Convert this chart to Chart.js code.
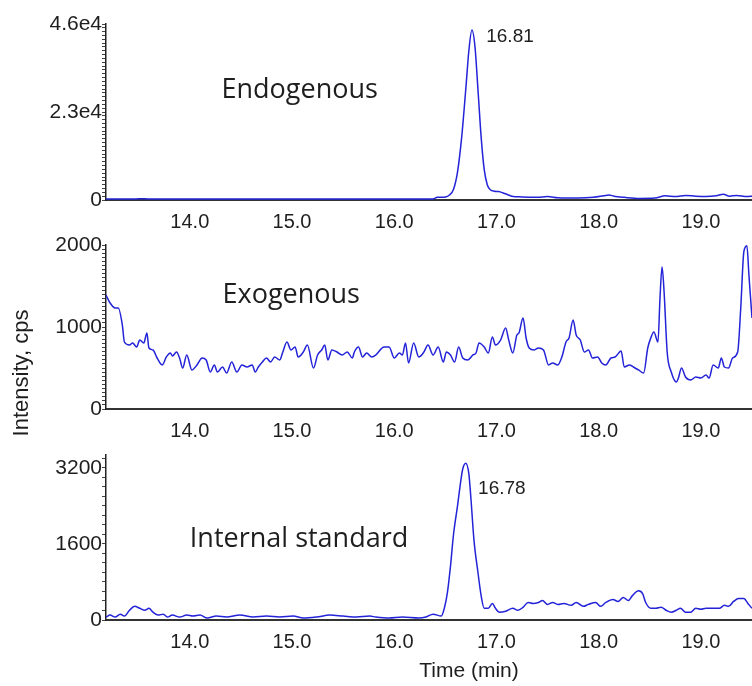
<!DOCTYPE html>
<html>
<head>
<meta charset="utf-8">
<script src="https://cdn.jsdelivr.net/npm/chart.js@4.4.1/dist/chart.umd.min.js"></script>
<style>
  html, body { margin: 0; padding: 0; background: #fff; }
  #wrap { position: relative; width: 752px; height: 686px; overflow: hidden; }
  canvas { position: absolute; left: 0; }
</style>
</head>
<body>
<div id="wrap">
  <canvas id="c1" width="752" height="232" style="top:0px"></canvas>
  <canvas id="c2" width="752" height="210" style="top:232px"></canvas>
  <canvas id="c3" width="752" height="244" style="top:442px"></canvas>
</div>
<script>
// axe du temps (min), commun aux trois panneaux
const timeMin = 13.18, timeMax = 19.5;
const timeTicks = [14, 15, 16, 17, 18, 19];

// Endogenous
const endoTime = [13.18, 13.45, 13.50, 13.56, 13.62, 14.00, 14.50, 15.00, 15.50, 16.00,
  16.38, 16.42, 16.50, 16.54, 16.58, 16.62, 16.66, 16.70, 16.73, 16.76,
  16.79, 16.82, 16.85, 16.88, 16.91, 16.94, 16.98, 17.02, 17.06, 17.10,
  17.15, 17.25, 17.40, 17.50, 17.60, 17.80, 17.95, 18.05, 18.10, 18.15,
  18.25, 18.40, 18.55, 18.65, 18.75, 18.85, 18.95, 19.05, 19.15, 19.22,
  19.28, 19.35, 19.45, 19.50];
const endoValue = [250, 250, 300, 300, 250, 250, 280, 250, 260, 250,
  280, 700, 800, 1300, 2800, 7500, 16500, 29000, 39000, 44400,
  40000, 28500, 16500, 8000, 4000, 2700, 2300, 2200, 1900, 1500,
  1000, 800, 700, 900, 600, 500, 700, 1100, 1300, 1000,
  700, 400, 500, 1100, 900, 1200, 1000, 900, 1100, 1500,
  1000, 1200, 900, 1000];
const endoMax = 46000, endoStep = 1000;
const endoLabels = { 0: '0', 23000: '2.3e4', 46000: '4.6e4' };

// Exogenous
const exoTime = [13.18, 13.22, 13.27, 13.30, 13.34, 13.36, 13.41, 13.44, 13.48, 13.51,
  13.55, 13.58, 13.60, 13.64, 13.68, 13.73, 13.77, 13.81, 13.83, 13.87,
  13.90, 13.93, 13.97, 14.02, 14.07, 14.12, 14.16, 14.20, 14.24, 14.27,
  14.32, 14.36, 14.41, 14.46, 14.51, 14.56, 14.61, 14.64, 14.67, 14.71,
  14.75, 14.79, 14.83, 14.88, 14.91, 14.95, 14.99, 15.03, 15.06, 15.11,
  15.15, 15.21, 15.25, 15.29, 15.32, 15.35, 15.39, 15.44, 15.49, 15.54,
  15.59, 15.61, 15.65, 15.69, 15.73, 15.78, 15.82, 15.90, 15.95, 16.00,
  16.05, 16.08, 16.11, 16.14, 16.19, 16.24, 16.29, 16.33, 16.38, 16.43,
  16.48, 16.51, 16.55, 16.59, 16.63, 16.67, 16.72, 16.77, 16.80, 16.83,
  16.88, 16.92, 16.96, 16.99, 17.04, 17.09, 17.12, 17.16, 17.20, 17.22,
  17.26, 17.29, 17.32, 17.37, 17.41, 17.46, 17.51, 17.55, 17.60, 17.64,
  17.68, 17.71, 17.75, 17.78, 17.82, 17.86, 17.90, 17.94, 17.99, 18.03,
  18.07, 18.12, 18.16, 18.22, 18.25, 18.30, 18.34, 18.39, 18.44, 18.48,
  18.51, 18.54, 18.58, 18.60, 18.62, 18.64, 18.67, 18.71, 18.76, 18.78,
  18.81, 18.85, 18.90, 18.95, 19.00, 19.05, 19.08, 19.12, 19.17, 19.20,
  19.23, 19.27, 19.31, 19.36, 19.39, 19.42, 19.45, 19.47, 19.50, 19.53];
const exoValue = [1390, 1293, 1232, 1232, 1024, 817, 780, 805, 756, 841,
  805, 927, 744, 720, 622, 537, 634, 683, 646, 695,
  622, 500, 659, 476, 537, 622, 598, 451, 537, 451,
  512, 439, 573, 451, 537, 512, 537, 451, 512, 573,
  622, 573, 634, 598, 695, 817, 720, 756, 634, 695,
  780, 500, 659, 720, 780, 598, 720, 695, 659, 695,
  622, 695, 756, 634, 683, 634, 659, 756, 756, 622,
  683, 659, 805, 561, 805, 634, 695, 780, 659, 756,
  573, 695, 659, 573, 756, 622, 598, 659, 683, 805,
  756, 683, 878, 780, 841, 988, 841, 683, 902, 927,
  1110, 866, 744, 720, 744, 720, 537, 561, 537, 634,
  817, 866, 1085, 902, 841, 695, 720, 622, 634, 561,
  537, 622, 634, 707, 512, 537, 512, 476, 439, 744,
  866, 939, 817, 1354, 1732, 1427, 695, 451, 329, 378,
  500, 390, 354, 390, 378, 415, 378, 537, 500, 622,
  512, 500, 622, 695, 1232, 1915, 1990, 1634, 1110, 700];
const exoMax = 2000, exoStep = 50;
const exoLabels = { 0: '0', 1000: '1000', 2000: '2000' };

// Internal standard
const istdTime = [13.18, 13.22, 13.27, 13.32, 13.36, 13.41, 13.46, 13.51, 13.56, 13.60,
  13.64, 13.69, 13.74, 13.78, 13.83, 13.90, 13.97, 14.03, 14.10, 14.17,
  14.26, 14.36, 14.49, 14.62, 14.75, 14.88, 15.01, 15.11, 15.24, 15.37,
  15.50, 15.63, 15.76, 15.82, 15.95, 16.08, 16.24, 16.31, 16.38, 16.46,
  16.49, 16.52, 16.55, 16.58, 16.62, 16.65, 16.67, 16.70, 16.73, 16.75,
  16.78, 16.82, 16.85, 16.88, 16.92, 16.96, 16.99, 17.03, 17.09, 17.16,
  17.21, 17.26, 17.31, 17.36, 17.41, 17.45, 17.50, 17.55, 17.60, 17.66,
  17.73, 17.78, 17.85, 17.90, 17.97, 18.02, 18.07, 18.14, 18.19, 18.24,
  18.29, 18.33, 18.39, 18.43, 18.46, 18.51, 18.56, 18.61, 18.66, 18.71,
  18.76, 18.80, 18.85, 18.90, 18.95, 19.00, 19.05, 19.12, 19.18, 19.23,
  19.27, 19.32, 19.37, 19.42, 19.46, 19.50, 19.53];
const istdValue = [62, 103, 62, 123, 82, 205, 287, 246, 205, 246,
  164, 103, 123, 62, 103, 62, 103, 82, 103, 41,
  82, 62, 103, 62, 82, 62, 82, 41, 62, 103,
  82, 62, 82, 62, 41, 62, 41, 62, 123, 82,
  246, 574, 1128, 1804, 2419, 2911, 3178, 3300, 3075, 2563,
  1681, 984, 513, 246, 246, 349, 246, 164, 185, 246,
  205, 267, 369, 349, 369, 410, 328, 369, 328, 349,
  308, 369, 287, 328, 369, 287, 369, 431, 390, 472,
  410, 513, 615, 554, 369, 246, 246, 267, 205, 164,
  205, 246, 164, 164, 246, 226, 246, 246, 246, 308,
  287, 390, 451, 451, 349, 246, 200];
const istdMax = 3480, istdStep = 200;
const istdLabels = { 0: '0', 1600: '1600', 3200: '3200' };

const lineColor = '#2323d8';
const textColor = '#1e1e1e';
const tickFont = { family: 'Liberation Sans, Arial, sans-serif', size: 20 };
const yFont = { family: 'Liberation Sans, Arial, sans-serif', size: 21 };

// textes libres (labels des panneaux, pics, titres d'axes)
const textNotes = {
  id: 'textNotes',
  afterDatasetsDraw(chart, args, opts) {
    const ctx = chart.ctx;
    (opts.items || []).forEach(n => {
      let x, y;
      if (n.px) { x = n.px[0]; y = n.px[1]; }
      else {
        x = chart.scales.x.getPixelForValue(n.at[0]);
        y = chart.scales.y.getPixelForValue(n.at[1]);
      }
      ctx.save();
      ctx.font = n.font;
      ctx.fillStyle = textColor;
      ctx.textAlign = n.align || 'left';
      ctx.textBaseline = 'alphabetic';
      ctx.translate(x, y);
      if (n.rotate) ctx.rotate(n.rotate);
      ctx.fillText(n.text, 0, 0);
      ctx.restore();
    });
  }
};

function makePanel(id, times, values, yMax, yStep, yLabels, padTop, xHeight, notes) {
  const points = times.map((t, i) => ({ x: t, y: values[i] }));
  const yTickValues = [];
  for (let v = 0; v <= yMax; v += yStep) yTickValues.push(v);

  return new Chart(document.getElementById(id), {
    type: 'line',
    data: {
      datasets: [{
        data: points,
        borderColor: lineColor,
        borderWidth: 1.5,
        pointRadius: 0,
        cubicInterpolationMode: 'monotone',
        fill: false
      }]
    },
    options: {
      responsive: false,
      animation: false,
      layout: { padding: { top: padTop, left: 0, right: 0, bottom: 0 } },
      plugins: {
        legend: { display: false },
        tooltip: { enabled: false },
        textNotes: { items: notes }
      },
      scales: {
        x: {
          type: 'linear',
          min: timeMin,
          max: timeMax,
          afterBuildTicks: s => { s.ticks = timeTicks.map(v => ({ value: v })); },
          afterFit: s => { s.height = xHeight; },
          grid: { display: false },
          border: { display: true, color: '#333', width: 2 },
          ticks: {
            color: textColor,
            font: tickFont,
            padding: 2,
            maxRotation: 0,
            autoSkip: false,
            callback: v => v.toFixed(1)
          }
        },
        y: {
          type: 'linear',
          min: 0,
          max: yMax,
          afterBuildTicks: s => { s.ticks = yTickValues.map(v => ({ value: v })); },
          afterFit: s => { s.width = 106; },
          grid: { display: true, drawOnChartArea: false, drawTicks: true, tickLength: 4, color: '#444', lineWidth: 1 },
          border: { display: true, color: '#222', width: 1.5 },
          ticks: {
            color: textColor,
            font: yFont,
            padding: 0,
            autoSkip: false,
            callback: v => (yLabels[v] !== undefined ? yLabels[v] : '')
          }
        }
      }
    },
    plugins: [textNotes]
  });
}

const panelFont = '27px "Open Sans", sans-serif';
const peakFont = '19px "Liberation Sans", Arial, sans-serif';
const titleFont = '21px "Liberation Sans", Arial, sans-serif';

makePanel('c1', endoTime, endoValue, endoMax, endoStep, endoLabels, 24, 32, [
  { text: 'Endogenous', at: [14.31, 26750], font: panelFont },
  { text: '16.81', at: [16.90, 41300], font: peakFont }
]);

makePanel('c2', exoTime, exoValue, exoMax, exoStep, exoLabels, 13, 33, [
  { text: 'Exogenous', at: [14.32, 1293], font: panelFont },
  { text: 'Intensity, cps', px: [28, 141], rotate: -Math.PI / 2, align: 'center', font: '22px "Liberation Sans", Arial, sans-serif' }
]);

makePanel('c3', istdTime, istdValue, istdMax, istdStep, istdLabels, 8, 66, [
  { text: 'Internal standard', at: [14.0, 1538], font: panelFont },
  { text: '16.78', at: [16.82, 2645], font: peakFont },
  { text: 'Time (min)', px: [469, 235], align: 'center', font: titleFont }
]);
</script>
</body>
</html>
